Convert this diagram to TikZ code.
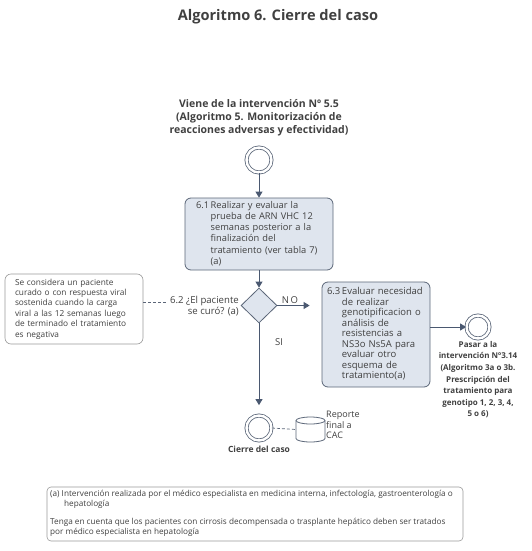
\documentclass[tikz,border=0pt]{standalone}
\usepackage{fontspec}
\setmainfont{Open Sans}
\usetikzlibrary{shapes.geometric,arrows.meta}
\definecolor{boxfill}{HTML}{DFE5EE}
\definecolor{boxline}{HTML}{5B6678}
\definecolor{arrowc}{HTML}{4A5870}
\definecolor{txt}{HTML}{404040}
\definecolor{notel}{HTML}{9A9A9A}
\begin{document}
\begin{tikzpicture}[x=1pt,y=-1pt,
  every node/.style={text=txt,inner sep=0pt},
  procbox/.style={draw=boxline,fill=boxfill,line width=0.8pt,rounded corners=6pt},
  notebox/.style={draw=notel,fill=white,line width=0.6pt,rounded corners=6pt},
  event/.style={circle,draw=boxline,double=white,double distance=2.4pt,line width=0.8pt,minimum size=25pt},
  flow/.style={draw=arrowc,line width=0.8pt,-{Triangle[length=6pt,width=7pt]}},
  assoc/.style={draw=boxline,line width=0.7pt,dashed,dash pattern=on 3pt off 2pt},
  body/.style={font=\fontsize{9}{10.5}\selectfont},
  boldt/.style={font=\fontsize{8.5}{11.6}\selectfont\bfseries,align=center}
]
\useasboundingbox (0,0) rectangle (531,551);

\node (title) at (278,17) {\fontsize{14.6}{16}\selectfont\bfseries Algoritmo 6. Cierre del caso};

\node[font=\fontsize{10.5}{13}\selectfont\bfseries,align=center] (hdr) at (259,118)
  {Viene de la intervención N\kern0ptº 5.5\\(Algoritmo 5. Monitorización de\\reacciones adversas y efectividad)};

\node[event] (start) at (259,160) {};

\node[procbox,minimum width=148pt,minimum height=72pt,text width=126pt,align=left,
      font=\fontsize{9.3}{11.3}\selectfont] (b61) at (259,234)
  {\begin{tabular}{@{}l@{\,}l@{}}6.1&Realizar y evaluar la\\&prueba de ARN VHC 12\\&semanas posterior a la\\&finalización del\\&tratamiento (ver tabla 7)\\&(a)\end{tabular}};

\node[diamond,draw=boxline,fill=boxfill,line width=0.8pt,minimum width=36pt,minimum height=35pt] (dia) at (259,305.5) {};

\node[font=\fontsize{9.6}{10.5}\selectfont,align=right,anchor=east] (q62) at (239,306) {6.2 ¿El paciente\\se curó? (a)};

\node[notebox,minimum width=138pt,minimum height=70pt,text width=118pt,align=left,
      font=\fontsize{8.3}{10.4}\selectfont] (note) at (74,309)
  {Se considera un paciente\\curado o con respuesta viral\\sostenida cuando la carga\\viral a las 12 semanas luego\\de terminado el tratamiento\\es negativa};

\node[procbox,minimum width=108pt,minimum height=105pt,text width=98pt,align=left,
      font=\fontsize{9.5}{10.5}\selectfont] (b63) at (376,334.5)
  {\begin{tabular}{@{}l@{\,}l@{}}6.3&Evaluar necesidad\\&de realizar\\&genotipificacion o\\&análisis de\\&resistencias a\\&NS3o Ns5A para\\&evaluar otro\\&esquema de\\&tratamiento(a)\end{tabular}};

\node[font=\fontsize{9.5}{11}\selectfont] (no) at (290,300) {N\,O};
\node[font=\fontsize{9.5}{11}\selectfont] (si) at (279,342) {SI};

\node[event,minimum size=23pt] (pasar) at (478,327) {};
\node[boldt,anchor=north,font=\fontsize{8}{11.6}\selectfont\bfseries] (pasart) at (478,341)
  {Pasar a la\\intervención N\kern0ptº3.14\\(Algoritmo 3a o 3b.\\Prescripción del\\tratamiento para\\genotipo 1, 2, 3, 4,\\5 o 6)};

\node[event] (endc) at (259,428) {};
\node[boldt] (endt) at (259,449) {Cierre del caso};

\coordinate (db) at (310.5,429.5);
\coordinate (dbw) at (296,429.5);
\draw[boxline,fill=white,line width=0.8pt]
  (296,420.5) -- (296,438.5) arc[start angle=180,end angle=360,x radius=14.5pt,y radius=3.5pt]
  -- (325,420.5) arc[start angle=0,end angle=180,x radius=14.5pt,y radius=3.5pt] -- cycle;
\draw[boxline,line width=0.8pt] (296,420.5) arc[start angle=180,end angle=360,x radius=14.5pt,y radius=3.5pt];
\node[body,align=left,anchor=north west] (rep) at (326,411) {Reporte\\final a\\CAC};

\draw[notel,line width=0.6pt,rounded corners=4pt] (47,487) rectangle (463,541);
\node[anchor=north west,align=left,font=\fontsize{8.2}{10}\selectfont] (foot) at (50,490)
  {(a) Intervención realizada por el médico especialista en medicina interna, infectología, gastroenterología o\\
   \hspace*{1.7em}hepatología\\[8pt]
   Tenga en cuenta que los pacientes con cirrosis decompensada o trasplante hepático deben ser tratados\\
   por médico especialista en hepatología};

\draw[flow] (start) -- (b61);
\draw[flow] (b61) -- (dia);
\draw[flow,shorten >=12pt] (dia.east) -- (dia.east -| b63.west);
\draw[flow,shorten >=10pt] (dia.south) -- (endc.north);
\draw[flow] (pasar.west -| b63.east) -- (pasar.west);
\draw[assoc] ([yshift=7pt]note.east) -- ([yshift=4pt,xshift=-2pt]q62.west);
\draw[assoc] (endc.east) -- (dbw);
\end{tikzpicture}
\end{document}
